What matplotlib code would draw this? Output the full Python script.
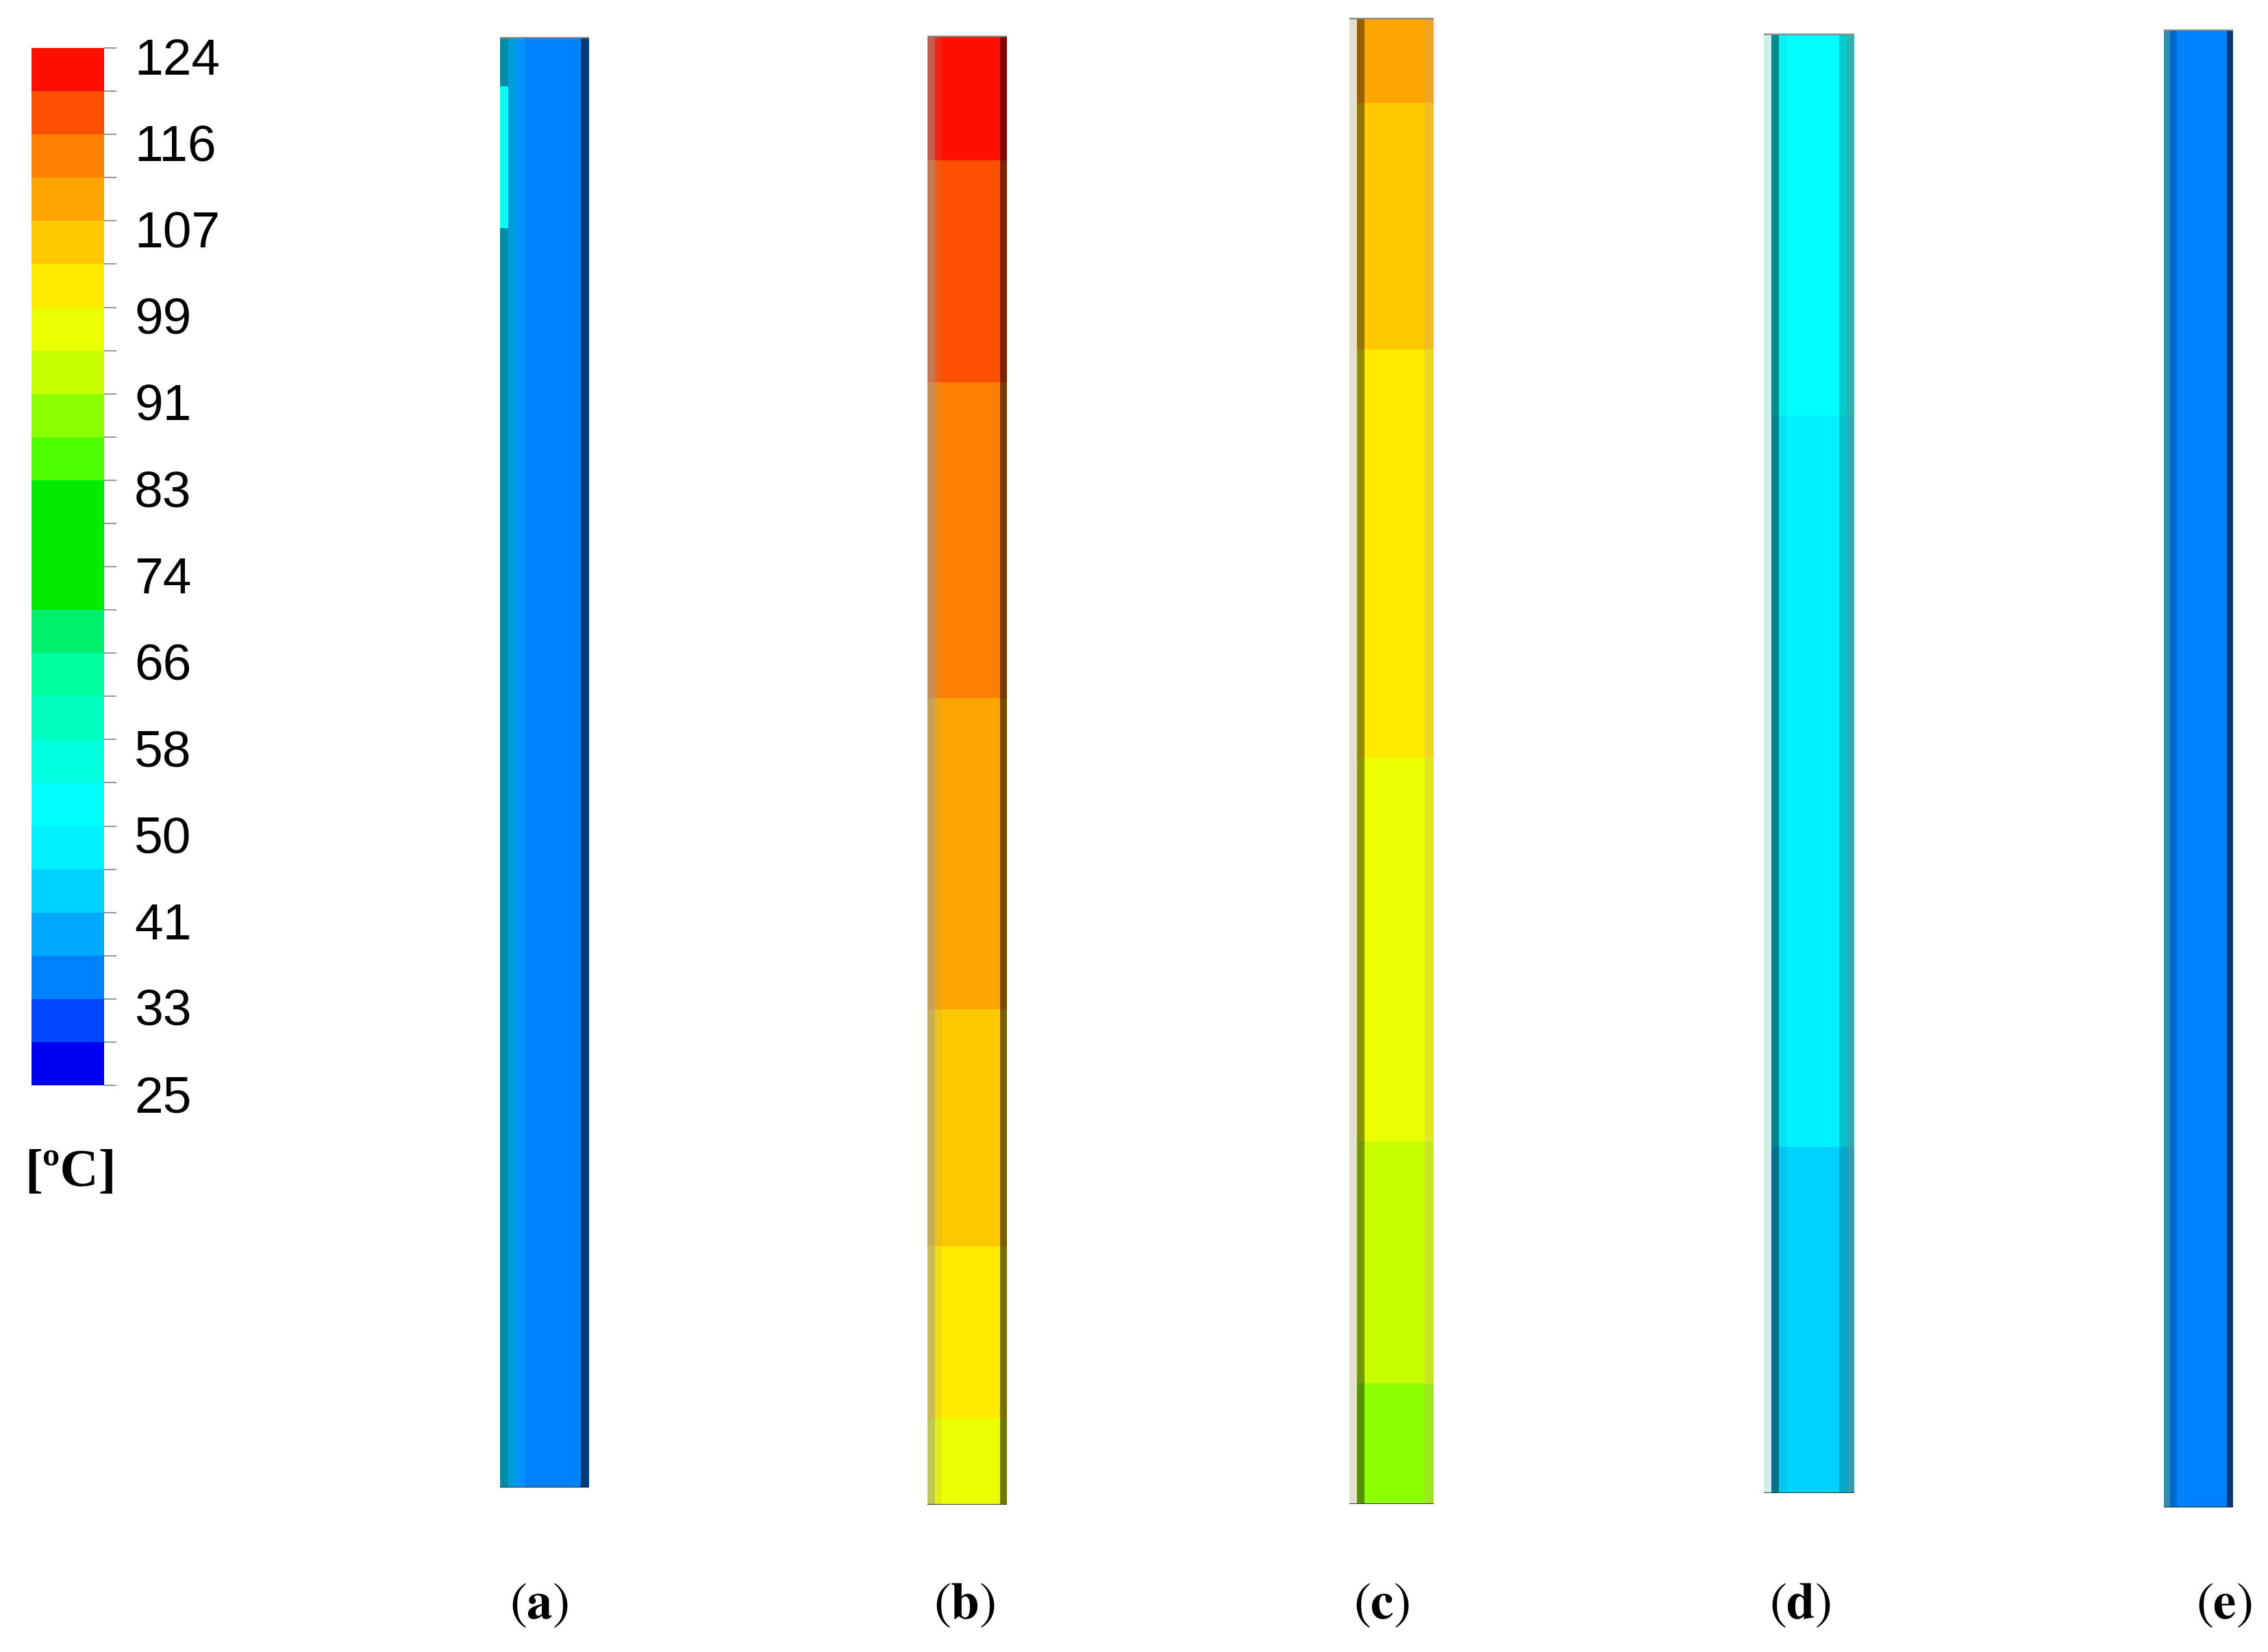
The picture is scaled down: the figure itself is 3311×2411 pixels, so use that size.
import matplotlib.pyplot as plt
import numpy as np
from matplotlib import colors, cm
from matplotlib.ticker import FixedLocator
from matplotlib.transforms import ScaledTranslation

plt.rcParams['mathtext.fontset'] = 'stix'

W, H, DPI = 3311, 2411, 100

# temperature scale (24 bands between 25 and 124 C)
t_min, t_max, n_bands = 25, 124, 24
tick_labels = ["25", "33", "41", "50", "58", "66", "74", "83", "91", "99", "107", "116", "124"]

band_rgb = [(0, 0, 240), (0, 70, 255), (0, 130, 255), (0, 170, 255), (0, 210, 255),
            (0, 240, 255), (0, 255, 255), (0, 255, 220), (0, 255, 190), (0, 255, 160),
            (0, 240, 110), (0, 235, 0), (0, 235, 0), (0, 235, 0), (80, 255, 0),
            (140, 255, 0), (200, 255, 0), (235, 255, 0), (255, 235, 0), (255, 200, 0),
            (255, 165, 0), (255, 128, 0), (255, 80, 0), (255, 15, 0)]

# temperature zones of each tube, bottom to top (fraction of tube height)
panel_labels = ["a", "b", "c", "d", "e"]
a_bounds = []
a_temps = [35]
b_bounds = [0.059, 0.176, 0.337, 0.549, 0.764, 0.915]
b_temps = [97, 101, 105.5, 109.5, 114, 118, 122]
c_bounds = [0.081, 0.244, 0.502, 0.777, 0.943]
c_temps = [89, 93, 97, 101, 105.5, 109.5]
d_bounds = [0.237, 0.738]
d_temps = [43, 48, 52]
e_bounds = []
e_temps = [35]
# small warmer patch along the left wall of tube (a)
a_wall_bounds = [0.868, 0.966]
a_wall_temp = 52

cmap = colors.ListedColormap(np.array(band_rgb) / 255.0)
levels = np.linspace(t_min, t_max, n_bands + 1)
norm = colors.BoundaryNorm(levels, cmap.N)

fig = plt.figure(figsize=(W / DPI, H / DPI), dpi=DPI)
fig.patch.set_facecolor('white')


def px_axes(x0, y0, x1, y1):
    return fig.add_axes([x0 / W, 1 - y1 / H, (x1 - x0) / W, (y1 - y0) / H])


# tube geometry in pixels (left, top, right, bottom) and wall shading strips
tubes = [
    dict(box=(730, 54, 860, 2171), bounds=a_bounds, temps=a_temps, lab_x=787,
         strips=[(730, 742, '#008ca8', 1.0), (742, 753, '#00a0d5', 0.85),
                 (753, 766, '#00a8ff', 0.5), (848, 860, 'black', 0.55)]),
    dict(box=(1354, 52, 1470, 2196), bounds=b_bounds, temps=b_temps, lab_x=1408,
         strips=[(1354, 1365, '#999999', 0.55), (1365, 1375, '#999999', 0.15),
                 (1460, 1470, 'black', 0.53)]),
    dict(box=(1970, 26, 2093, 2195), bounds=c_bounds, temps=c_temps, lab_x=2017,
         strips=[(1970, 1981, '#e3e1cb', 1.0), (1981, 1992, 'black', 0.42),
                 (2080, 2093, '#c8aa78', 0.3)]),
    dict(box=(2575, 49, 2707, 2179), bounds=d_bounds, temps=d_temps, lab_x=2628,
         strips=[(2575, 2586, '#d2eeeb', 1.0), (2586, 2597, 'black', 0.45),
                 (2597, 2608, 'black', 0.05), (2685, 2696, 'black', 0.2),
                 (2696, 2707, '#646464', 0.5)]),
    dict(box=(3159, 43, 3260, 2200), bounds=e_bounds, temps=e_temps, lab_x=3247,
         strips=[(3159, 3168, '#64966e', 0.5), (3168, 3178, 'black', 0.2),
                 (3251, 3260, 'black', 0.55)]),
]

for i, tb in enumerate(tubes):
    x0, y0, x1, y1 = tb['box']
    ax = px_axes(x0, y0, x1, y1)
    yedges = np.array([0.0] + tb['bounds'] + [1.0])
    vals = np.array(tb['temps'], dtype=float).reshape(-1, 1)
    ax.pcolormesh([0, 1], yedges, vals, cmap=cmap, norm=norm, shading='flat')
    wdt = x1 - x0
    for sx0, sx1, col, alpha in tb['strips']:
        ax.axvspan((sx0 - x0) / wdt, (sx1 - x0) / wdt, color=col, alpha=alpha, lw=0)
    if i == 0:
        ax.pcolormesh([0, 12 / wdt], a_wall_bounds, [[a_wall_temp]], cmap=cmap, norm=norm)
    ax.axhline(1, color='#888888', lw=2.5)
    ax.axhline(0, color='#202020', lw=2)
    ax.set_xlim(0, 1)
    ax.set_ylim(0, 1)
    ax.axis('off')
    fig.text(tb['lab_x'] / W, 1 - 2341 / H, r"$(\mathbf{%s})$" % panel_labels[i],
             fontsize=54, ha='center', va='center')

# legend bar
cax = px_axes(46, 70, 152, 1584)
sm = cm.ScalarMappable(norm=norm, cmap=cmap)
major = np.linspace(t_min, t_max, len(tick_labels))
cb = fig.colorbar(sm, cax=cax, ticks=major)
cb.outline.set_visible(False)
cax.yaxis.set_minor_locator(FixedLocator(levels[1::2]))
cax.tick_params(which='both', length=13, width=1.5, color='#999999', labelright=False)
shift = cax.get_yaxis_transform() + ScaledTranslation(44 / DPI, -12 / DPI, fig.dpi_scale_trans)
for v, lab in zip(major, tick_labels):
    cax.text(1, v, lab, transform=shift, fontsize=54, family='Liberation Sans',
             ha='left', va='center_baseline')

fig.text(103 / W, 1 - 1712 / H, "[ºC]", fontsize=56, fontweight='bold',
         family='Liberation Serif', ha='center', va='center')

fig.savefig('out.png', dpi=DPI, facecolor='white')
